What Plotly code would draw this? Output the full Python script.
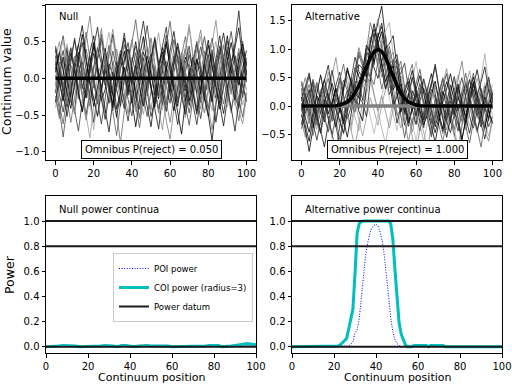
import plotly.graph_objects as go

# ---------------- data ----------------
X_SAMPLE = list(range(0, 101, 2))

NULL_NOISE = [
    [0.31,-0.12,0.05,0.42,-0.25,-0.48,0.10,0.22,-0.05,0.36,0.58,0.12,-0.30,-0.15,0.20,0.05,-0.42,-0.18,0.25,0.40,0.08,-0.22,-0.55,-0.10,0.18,0.33,-0.06,-0.28,0.12,0.47,0.21,-0.14,-0.38,0.02,0.29,0.15,-0.20,-0.45,-0.12,0.26,0.52,0.18,-0.09,-0.33,0.07,0.38,0.11,-0.24,-0.41,0.05,0.22],
    [-0.20,0.15,0.38,0.06,-0.33,-0.12,0.27,0.49,0.10,-0.26,-0.60,-0.22,0.14,0.35,-0.08,-0.40,-0.05,0.30,0.62,0.24,-0.11,-0.36,0.03,0.28,-0.17,-0.52,-0.30,0.09,0.44,0.70,0.25,-0.07,-0.29,0.16,0.41,0.02,-0.35,-0.63,-0.21,0.13,0.32,-0.04,-0.27,0.19,0.46,0.14,-0.18,0.08,0.35,-0.10,-0.32],
    [0.05,-0.35,-0.62,-0.20,0.18,0.04,-0.28,0.12,0.40,0.15,-0.13,0.26,0.55,0.31,-0.02,-0.45,-0.78,-0.34,0.06,0.22,0.48,0.80,0.33,-0.05,-0.24,0.10,-0.16,-0.47,-0.15,0.23,0.09,-0.31,-0.12,0.30,0.57,0.22,-0.14,-0.40,0.05,0.37,0.12,-0.22,-0.58,-0.26,0.17,0.43,0.08,-0.19,0.28,0.51,0.14],
    [0.44,0.18,-0.10,-0.39,-0.14,0.21,0.07,-0.24,-0.50,-0.18,0.16,0.42,0.20,-0.09,0.33,0.60,0.25,-0.20,-0.41,-0.06,0.15,-0.27,-0.08,0.36,0.19,-0.14,-0.44,-0.69,-0.25,0.11,0.38,0.64,0.27,-0.03,-0.30,-0.12,0.24,0.49,0.13,-0.21,-0.07,0.29,-0.05,-0.37,-0.65,-0.28,0.06,0.31,0.02,-0.26,0.10],
    [-0.28,-0.55,-0.19,0.14,0.36,0.09,-0.17,0.20,0.51,0.85,0.37,0.02,-0.25,-0.48,-0.11,0.23,0.04,-0.30,-0.06,0.27,0.53,0.18,-0.15,-0.37,-0.09,0.20,0.46,0.13,-0.22,-0.58,-0.83,-0.40,0.01,0.26,0.08,-0.19,0.15,0.39,0.66,0.28,-0.10,-0.32,0.04,0.30,0.12,-0.23,-0.47,-0.15,0.21,0.40,0.06],
    [0.12,0.34,0.58,0.21,-0.16,-0.43,-0.72,-0.31,0.05,0.28,-0.03,-0.35,-0.13,0.19,0.45,0.16,-0.12,0.24,0.06,-0.29,-0.51,-0.18,0.17,0.40,0.72,0.33,0.01,-0.24,0.15,-0.10,-0.34,0.08,0.31,0.10,-0.22,-0.47,-0.20,0.18,0.43,0.21,-0.08,-0.31,-0.60,-0.23,0.12,0.35,0.64,0.27,-0.04,-0.21,0.09],
    [-0.40,-0.11,0.22,0.47,0.17,-0.14,0.11,-0.19,-0.47,-0.81,-0.38,0.03,0.21,-0.07,0.30,0.54,0.19,-0.10,-0.33,0.02,0.29,0.07,-0.25,-0.49,-0.16,0.13,0.35,0.62,0.23,-0.12,0.14,0.39,0.06,-0.27,-0.54,-0.22,0.08,0.34,0.57,0.17,-0.15,0.26,0.50,0.15,-0.18,-0.39,-0.08,0.22,-0.12,-0.36,-0.18],
    [0.20,-0.06,-0.31,0.03,0.27,0.52,0.19,-0.09,-0.26,0.10,0.34,0.08,-0.28,-0.56,-0.24,0.09,-0.15,-0.38,0.01,0.25,-0.05,0.20,0.47,0.78,0.40,0.05,-0.18,-0.42,-0.13,0.17,-0.09,-0.32,-0.63,-0.26,0.09,0.32,0.11,-0.20,0.04,-0.28,-0.52,-0.17,0.19,0.44,0.16,-0.13,0.20,0.48,0.92,0.36,0.04],
    [-0.09,0.22,-0.04,-0.29,-0.60,-0.27,0.08,0.30,0.63,0.26,-0.07,-0.33,0.04,0.28,0.09,-0.21,-0.46,-0.88,-0.41,-0.02,0.23,0.44,0.15,-0.12,0.27,0.55,0.20,-0.07,-0.34,-0.11,0.19,0.03,-0.25,0.12,0.36,0.70,0.30,0.01,-0.26,-0.47,-0.14,0.16,-0.06,-0.30,0.06,0.29,-0.02,-0.33,-0.58,-0.20,0.13],
    [0.38,0.11,-0.17,0.19,0.41,0.14,-0.20,-0.45,-0.13,0.21,0.48,0.13,-0.16,0.18,-0.08,-0.36,-0.12,0.15,0.37,0.06,-0.30,-0.66,-0.29,0.04,0.30,0.08,-0.23,0.18,0.42,0.16,-0.19,-0.44,-0.15,0.21,-0.03,-0.31,0.04,0.27,0.10,-0.24,-0.49,-0.85,-0.36,0.01,0.28,0.58,0.21,-0.06,0.25,0.47,0.17],
    [-0.15,-0.42,-0.80,-0.35,0.02,0.24,0.47,0.15,-0.14,-0.38,-0.04,0.29,0.60,0.26,-0.01,-0.22,0.12,0.38,0.09,-0.18,0.10,0.35,0.06,-0.27,-0.52,-0.19,0.16,-0.11,-0.37,-0.06,0.28,0.53,0.20,-0.10,-0.36,-0.64,-0.27,0.07,0.30,0.57,0.24,-0.09,0.16,0.40,0.13,-0.15,-0.43,-0.14,0.16,-0.08,-0.30],
    [0.27,0.50,0.16,-0.11,-0.34,0.01,0.32,0.07,-0.21,-0.02,-0.27,-0.53,-0.19,0.14,0.38,0.67,0.28,-0.05,-0.29,0.06,-0.20,-0.45,-0.12,0.16,0.43,0.14,-0.15,-0.40,-0.70,-0.30,0.05,0.27,-0.01,-0.24,0.13,0.37,0.12,-0.16,-0.42,-0.10,0.23,0.47,0.79,0.33,-0.02,-0.27,0.07,-0.18,-0.44,-0.62,-0.25],
    [-0.33,0.04,0.29,-0.02,-0.25,0.18,0.45,0.72,0.30,-0.06,-0.28,-0.51,-0.17,0.12,-0.14,-0.40,0.09,0.33,0.11,-0.23,0.21,0.50,0.17,-0.10,-0.39,-0.66,-0.24,0.14,0.36,0.05,-0.19,0.22,0.48,0.19,-0.12,-0.37,-0.09,0.25,-0.01,-0.29,0.10,0.34,0.07,-0.21,-0.48,-0.16,0.18,0.42,0.69,0.26,-0.05],
    [0.16,-0.21,-0.46,-0.11,0.23,0.55,0.20,-0.14,0.07,0.31,0.02,-0.30,-0.62,-0.27,0.10,0.37,0.14,-0.18,0.26,0.49,0.12,-0.16,-0.42,-0.08,0.19,-0.12,-0.34,0.03,0.28,0.59,0.22,-0.09,-0.33,-0.14,0.20,0.44,0.09,-0.26,-0.55,-0.22,0.15,0.39,0.04,-0.20,0.27,0.51,0.18,-0.13,-0.38,-0.07,0.24],
    [-0.06,0.27,0.53,0.16,-0.20,-0.47,-0.15,0.19,-0.09,-0.36,-0.70,-0.26,0.08,0.34,0.63,0.25,-0.04,-0.27,0.06,0.32,-0.03,-0.31,-0.55,-0.18,0.20,0.46,0.15,-0.17,-0.43,-0.10,0.26,0.05,-0.24,0.14,0.40,0.74,0.31,-0.02,-0.25,0.09,-0.18,-0.44,-0.13,0.21,0.47,0.16,-0.12,-0.37,0.02,0.30,0.12],
    [0.41,0.09,-0.23,-0.52,-0.18,0.13,0.36,0.05,-0.27,0.15,0.43,0.70,0.28,-0.08,-0.34,-0.10,0.22,-0.05,-0.32,-0.58,-0.21,0.14,0.40,0.11,-0.19,0.24,0.56,0.21,-0.11,-0.36,-0.02,0.31,0.08,-0.23,-0.49,-0.15,0.20,0.47,0.13,-0.16,-0.41,-0.07,0.27,0.58,0.20,-0.14,-0.40,-0.72,-0.30,0.06,0.28],
    [-0.24,-0.50,-0.16,0.17,0.42,0.12,-0.14,0.22,0.03,-0.29,-0.08,0.25,0.52,0.14,-0.19,-0.44,-0.12,0.21,0.46,0.18,-0.10,-0.37,-0.67,-0.25,0.07,0.32,0.09,-0.22,0.16,0.45,0.78,0.34,0.01,-0.22,-0.46,-0.13,0.19,-0.07,-0.33,0.04,0.30,0.55,0.20,-0.11,-0.35,0.01,0.26,-0.04,-0.28,-0.53,-0.20],
    [0.08,0.35,0.11,-0.20,-0.41,-0.06,0.28,0.60,0.24,-0.09,-0.38,-0.12,0.17,0.41,0.07,-0.26,-0.53,-0.19,0.15,-0.08,-0.34,0.02,0.31,0.57,0.18,-0.13,-0.39,-0.04,0.24,0.50,0.13,-0.18,-0.45,-0.76,-0.32,0.04,0.29,0.07,-0.21,0.20,0.45,0.15,-0.15,-0.42,-0.11,0.23,0.49,0.19,-0.09,0.14,0.38],
    [-0.12,0.19,-0.08,-0.35,-0.04,0.30,0.06,-0.26,-0.57,-0.23,0.12,0.38,0.68,0.29,-0.06,0.16,0.40,0.10,-0.22,-0.48,-0.15,0.18,0.44,0.13,-0.18,-0.43,-0.10,0.21,-0.03,-0.30,-0.60,-0.24,0.10,0.35,0.11,-0.17,0.23,0.51,0.17,-0.14,-0.39,-0.70,-0.28,0.08,0.33,0.07,-0.22,0.15,0.41,0.10,-0.16],
    [0.23,-0.04,-0.30,0.09,0.34,0.10,-0.18,-0.46,-0.14,0.20,0.49,0.17,-0.12,-0.40,-0.73,-0.31,0.05,0.28,0.55,0.21,-0.08,0.18,-0.10,-0.38,-0.06,0.27,0.53,0.16,-0.20,-0.45,-0.13,0.19,0.43,0.14,-0.17,0.09,-0.21,-0.49,-0.16,0.18,-0.05,-0.32,0.07,0.33,0.62,0.26,-0.05,-0.30,0.12,0.36,0.08],
]
N_ALT_SIGNAL = 16  # first 16 samples carry the signal in the Alternative panel; the rest are null samples

# mean signal (alternative), sampled at X_SAMPLE
SIGNAL = [0,0,0,0,0,0,0,0,0,0.007,0.017,0.037,0.073,0.135,0.23,0.36,0.52,0.693,0.849,0.96,
          1.0,0.96,0.849,0.693,0.52,0.36,0.23,0.135,0.073,0.037,0.017,0.007,0,0,0,0,0,0,0,0,
          0,0,0,0,0,0,0,0,0,0,0]
NULL_MEAN = [0.0] * 51

# power continua
NULL_COI = [0.0,0.0,0.0,0.005,0.01,0.01,0.01,0.005,0.0,0.0,0.0,0.0,0.0,0.005,0.01,0.01,0.005,0.0,0.01,0.01,
            0.005,0.0,0.005,0.01,0.01,0.005,0.005,0.01,0.01,0.005,0.0,0.0,0.0,0.0,0.0,0.0,0.0,0.0,0.005,0.01,
            0.01,0.01,0.0,0.0,0.005,0.01,0.015,0.02,0.025,0.02,0.015]
NULL_POI = [0.0,0.0,0.0,0.0,0.005,0.0,0.0,0.0,0.0,0.0,0.0,0.0,0.0,0.0,0.005,0.0,0.0,0.0,0.0,0.005,
            0.0,0.0,0.0,0.0,0.005,0.0,0.0,0.0,0.0,0.0,0.0,0.0,0.0,0.0,0.0,0.0,0.0,0.0,0.0,0.005,
            0.0,0.0,0.0,0.0,0.0,0.0,0.0,0.005,0.01,0.005,0.0]

ALT_COI_X = [0,20,22,23,24,25,26,27,28,29,30,31,32,33,34,46,47,48,49,50,51,52,53,54,55,57,58,64,65,66,72,73,100]
ALT_COI_Y = [0,0,0.005,0.015,0.03,0.045,0.065,0.14,0.22,0.30,0.58,0.90,0.98,0.995,1.0,1.0,0.98,0.86,0.62,0.36,0.19,0.10,0.05,0.015,0.0,0.0,0.01,0.01,0.0,0.01,0.01,0.0,0.0]
ALT_POI_X = [0,26,27,28,29,30,31,32,33,34,35,36,37,38,39,40,41,42,43,44,45,46,47,48,49,50,51,52,100]
ALT_POI_Y = [0,0,0.005,0.02,0.04,0.11,0.135,0.22,0.38,0.55,0.72,0.82,0.90,0.945,0.965,0.975,0.96,0.91,0.84,0.72,0.58,0.40,0.23,0.12,0.06,0.025,0.01,0.0,0.0]

POWER_DATUM = [0.0, 0.8, 1.0]

OMNIBUS_NULL = 0.050
OMNIBUS_ALT = 1.000

# ---------------- figure ----------------
SHADES = ['#000000', '#2a2a2a', '#5a5a5a', '#111111', '#7a7a7a', '#3c3c3c',
          '#9a9a9a', '#1e1e1e', '#666666', '#000000', '#484848', '#888888',
          '#0a0a0a', '#333333', '#a5a5a5', '#222222', '#555555', '#000000',
          '#777777', '#151515']
LIGHT = ['#aaaaaa', '#999999', '#b5b5b5', '#8c8c8c']
TEAL = '#00bfbf'
FONT = 'DejaVu Sans'

fig = go.Figure()

for i, line in enumerate(NULL_NOISE):
    fig.add_trace(go.Scatter(x=X_SAMPLE[:len(line)], y=line, mode='lines',
                             line=dict(color=SHADES[i % len(SHADES)], width=0.8),
                             xaxis='x', yaxis='y', showlegend=False, hoverinfo='skip'))
fig.add_trace(go.Scatter(x=X_SAMPLE, y=NULL_MEAN, mode='lines', line=dict(color='black', width=3.5),
                         xaxis='x', yaxis='y', showlegend=False, hoverinfo='skip'))

# alternative panel: null samples (light) beneath, signal samples on top
for k, line in enumerate(NULL_NOISE[N_ALT_SIGNAL:]):
    fig.add_trace(go.Scatter(x=X_SAMPLE[:len(line)], y=line, mode='lines',
                             line=dict(color=LIGHT[k % len(LIGHT)], width=0.8),
                             xaxis='x2', yaxis='y2', showlegend=False, hoverinfo='skip'))
for i, line in enumerate(NULL_NOISE[:N_ALT_SIGNAL]):
    y = [s + n for s, n in zip(SIGNAL, line)]
    fig.add_trace(go.Scatter(x=X_SAMPLE[:len(y)], y=y, mode='lines',
                             line=dict(color=SHADES[(i + 7) % len(SHADES)], width=0.8),
                             xaxis='x2', yaxis='y2', showlegend=False, hoverinfo='skip'))
fig.add_trace(go.Scatter(x=X_SAMPLE, y=NULL_MEAN, mode='lines', line=dict(color='#808080', width=3.5),
                         xaxis='x2', yaxis='y2', showlegend=False, hoverinfo='skip'))
fig.add_trace(go.Scatter(x=X_SAMPLE, y=SIGNAL, mode='lines', line=dict(color='black', width=3.5),
                         xaxis='x2', yaxis='y2', showlegend=False, hoverinfo='skip'))

# power panels
for ax, (px, py, cx, cy), leg in [
        ('3', (X_SAMPLE, NULL_POI, X_SAMPLE, NULL_COI), True),
        ('4', (ALT_POI_X, ALT_POI_Y, ALT_COI_X, ALT_COI_Y), False)]:
    fig.add_trace(go.Scatter(x=px, y=py, mode='lines', name='POI power',
                             line=dict(color='blue', width=1, dash='1px,1.6px'),
                             xaxis='x' + ax, yaxis='y' + ax, showlegend=leg, hoverinfo='skip'))
    fig.add_trace(go.Scatter(x=cx, y=cy, mode='lines', name='COI power (radius=3)',
                             line=dict(color=TEAL, width=3),
                             xaxis='x' + ax, yaxis='y' + ax, showlegend=leg, hoverinfo='skip'))
    for j, d in enumerate(POWER_DATUM):
        fig.add_trace(go.Scatter(x=[0, 100], y=[d, d], mode='lines', name='Power datum',
                                 line=dict(color='#1a1a1a', width=2),
                                 xaxis='x' + ax, yaxis='y' + ax, showlegend=(leg and j == 0),
                                 hoverinfo='skip'))

W, H = 512, 384
def fx(p):
    return p / W
def fy(p):
    return 1 - p / H

LEFT = [fx(46), fx(256)]
RIGHT = [fx(292), fx(502)]
TOP = [fy(160), fy(5)]
BOT = [fy(353), fy(196)]

axcommon = dict(showline=True, mirror=True, linecolor='black', linewidth=1,
                ticks='outside', ticklen=3.5, tickwidth=1, tickcolor='black',
                showgrid=False, zeroline=False, automargin=False,
                tickfont=dict(family=FONT, size=10, color='black'))
xt = [0, 20, 40, 60, 80, 100]

fig.update_layout(
    template='none',
    width=W, height=H, margin=dict(l=0, r=0, t=0, b=0, pad=0),
    paper_bgcolor='white', plot_bgcolor='white',
    font=dict(family=FONT, color='black'),
    xaxis=dict(domain=LEFT, anchor='y', range=[-5, 105], tickvals=xt, **axcommon),
    yaxis=dict(domain=TOP, anchor='x', range=[-1.113, 1.0], tickvals=[-1, -0.5, 0, 0.5, 1],
               tickformat='.1f', **axcommon),
    xaxis2=dict(domain=RIGHT, anchor='y2', range=[-5, 105], tickvals=xt, **axcommon),
    yaxis2=dict(domain=TOP, anchor='x2', range=[-0.95, 1.78], tickvals=[-0.5, 0, 0.5, 1, 1.5],
                tickformat='.1f', **axcommon),
    xaxis3=dict(domain=LEFT, anchor='y3', range=[0, 100], tickvals=xt, **axcommon),
    yaxis3=dict(domain=BOT, anchor='x3', range=[-0.05, 1.2], tickvals=[0, 0.2, 0.4, 0.6, 0.8, 1.0],
                tickformat='.1f', **axcommon),
    xaxis4=dict(domain=RIGHT, anchor='y4', range=[0, 100], tickvals=xt, **axcommon),
    yaxis4=dict(domain=BOT, anchor='x4', range=[-0.05, 1.2], tickvals=[0, 0.2, 0.4, 0.6, 0.8, 1.0],
                tickformat='.1f', **axcommon),
    legend=dict(x=fx(253), y=fy(253), xanchor='right', yanchor='top',
                bgcolor='rgba(255,255,255,0.8)', bordercolor='#cccccc', borderwidth=1,
                font=dict(family=FONT, size=8.5, color='black'), tracegroupgap=0,
                itemwidth=30),
    showlegend=True,
)

ann = []
def label(text, xref, yref, x, y, xanchor='left', **kw):
    ann.append(dict(text=text, xref=xref, yref=yref, x=x, y=y, xanchor=xanchor,
                    yanchor='middle', showarrow=False,
                    font=dict(family=FONT, size=10, color='black'), **kw))

label('Null', 'x domain', 'y domain', 0.052, 0.929)
label('Alternative', 'x2 domain', 'y2 domain', 0.052, 0.929)
label('Null power continua', 'x3 domain', 'y3 domain', 0.052, 0.917)
label('Alternative power continua', 'x4 domain', 'y4 domain', 0.052, 0.917)
label('Omnibus P(reject) = %.3f' % OMNIBUS_NULL, 'x domain', 'y domain', 0.5, 0.068, xanchor='center',
      bgcolor='white', bordercolor='black', borderwidth=1, borderpad=3)
label('Omnibus P(reject) = %.3f' % OMNIBUS_ALT, 'x2 domain', 'y2 domain', 0.5, 0.068, xanchor='center',
      bgcolor='white', bordercolor='black', borderwidth=1, borderpad=3)

for text, x, y, ang, sz in [('Continuum value', fx(7), fy(82), -90, 12.5),
                            ('Power', fx(9), fy(275), -90, 12.5),
                            ('Continuum position', fx(151), fy(377.5), 0, 11),
                            ('Continuum position', fx(397), fy(377.5), 0, 11)]:
    ann.append(dict(text=text, xref='paper', yref='paper', x=x, y=y, xanchor='center',
                    yanchor='middle', showarrow=False, textangle=ang,
                    font=dict(family=FONT, size=sz, color='black')))

fig.update_layout(annotations=ann)
fig.write_html('out.html',
               config={'displayModeBar': False},
               post_script="document.body.style.margin='0';document.body.style.padding='0';"
                           "document.body.style.overflow='hidden';")
